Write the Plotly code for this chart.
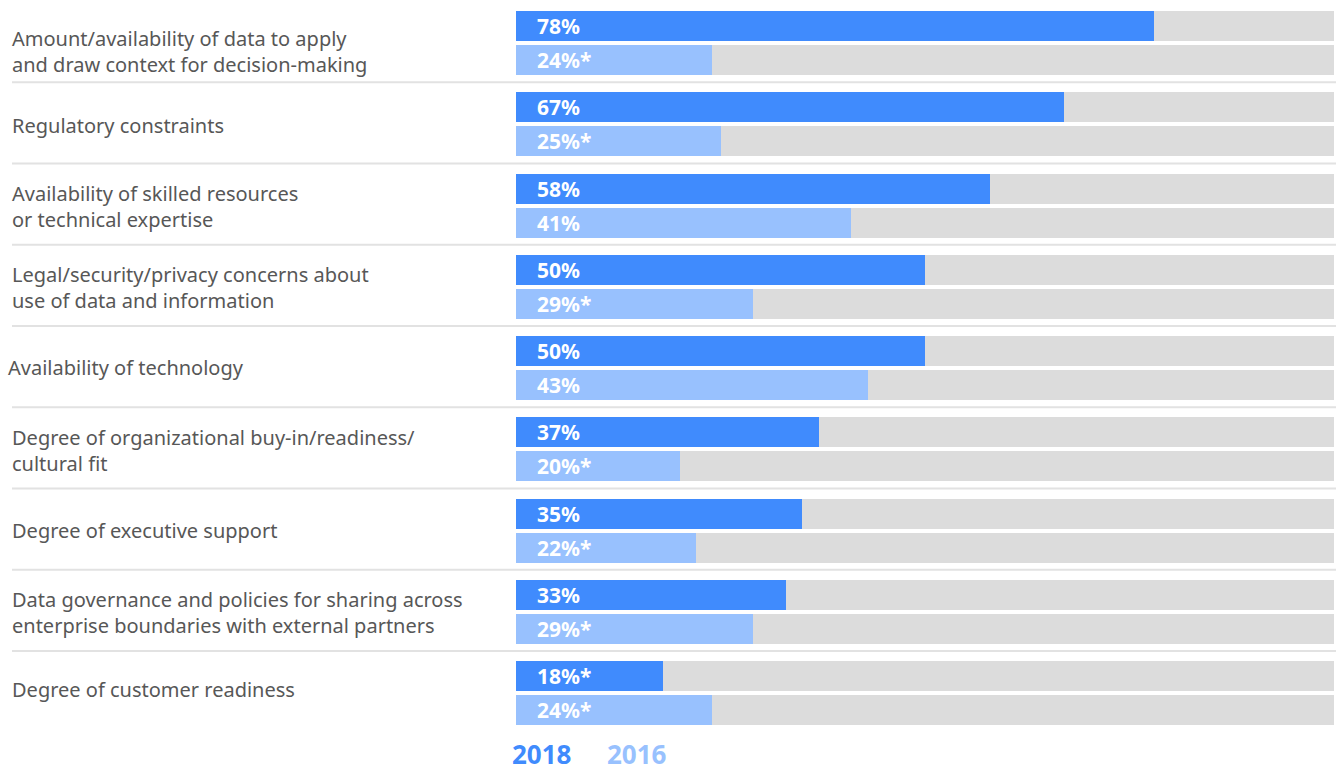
import plotly.graph_objects as go

categories = [
    "Amount/availability of data to apply<br>and draw context for decision-making",
    "Regulatory constraints",
    "Availability of skilled resources<br>or technical expertise",
    "Legal/security/privacy concerns about<br>use of data and information",
    "Availability of technology",
    "Degree of organizational buy-in/readiness/<br>cultural fit",
    "Degree of executive support",
    "Data governance and policies for sharing across<br>enterprise boundaries with external partners",
    "Degree of customer readiness",
]
values_2018 = [78, 67, 58, 50, 50, 37, 35, 33, 18]
labels_2018 = ["78%", "67%", "58%", "50%", "50%", "37%", "35%", "33%", "18%*"]
values_2016 = [24, 25, 41, 29, 43, 20, 22, 29, 24]
labels_2016 = ["24%*", "25%*", "41%", "29%*", "43%", "20%*", "22%*", "29%*", "24%*"]
series_names = ["2018", "2016"]

C_DARK = "#408bfd"
C_LIGHT = "#98c1fe"
C_GREY = "#dcdcdc"
C_TEXT = "#575757"

W, H = 1340, 774
PITCH = 81.25
TOP = 11
BAR_H = 30
GAP = 4
label_x_px = [10, 10, 10, 10, 6, 10, 10, 10, 10]
label_dy = [8, 1, 1, 1, -1, 1, 0, 1, -4]

n = len(categories)
y_dark = [TOP + BAR_H / 2 + i * PITCH for i in range(n)]
y_light = [y + BAR_H + GAP for y in y_dark]

fig = go.Figure()
fig.add_trace(go.Bar(y=y_dark + y_light, x=[100] * (2 * n), orientation="h",
                     width=BAR_H, marker=dict(color=C_GREY, line=dict(width=0)),
                     hoverinfo="skip", showlegend=False))
fig.add_trace(go.Bar(y=y_dark, x=values_2018, orientation="h", width=BAR_H,
                     marker=dict(color=C_DARK, line=dict(width=0)), name=series_names[0],
                     showlegend=False))
fig.add_trace(go.Bar(y=y_light, x=values_2016, orientation="h", width=BAR_H,
                     marker=dict(color=C_LIGHT, line=dict(width=0)), name=series_names[1],
                     showlegend=False))

annotations = []
shapes = []
val_font = dict(family="Noto Sans", size=21, color="white")
for i in range(n):
    annotations.append(dict(x=0, y=y_dark[i], xref="x", yref="y", text="<b>%s</b>" % labels_2018[i],
                            showarrow=False, xanchor="left", xshift=19, font=val_font))
    annotations.append(dict(x=0, y=y_light[i], xref="x", yref="y", text="<b>%s</b>" % labels_2016[i],
                            showarrow=False, xanchor="left", xshift=19, font=val_font))
    center = (y_dark[i] + y_light[i]) / 2 + label_dy[i]
    annotations.append(dict(x=label_x_px[i] / W, y=center, xref="paper", yref="y", text=categories[i],
                            showarrow=False, xanchor="left", yanchor="middle", align="left",
                            font=dict(family="Noto Sans", size=20, color=C_TEXT)))
    if i < n - 1:
        ysep = TOP + (i + 1) * PITCH - 10
        shapes.append(dict(type="line", xref="paper", yref="y", x0=12 / W, x1=1336 / W,
                           y0=ysep, y1=ysep, line=dict(color="#e2e2e2", width=2)))

leg_font = dict(family="Noto Sans", size=26)
annotations.append(dict(x=510 / W, y=0, xref="paper", yref="paper", text="<b>%s</b>" % series_names[0],
                        showarrow=False, xanchor="left", yanchor="bottom", font=dict(leg_font, color=C_DARK)))
annotations.append(dict(x=605 / W, y=0, xref="paper", yref="paper", text="<b>%s</b>" % series_names[1],
                        showarrow=False, xanchor="left", yanchor="bottom", font=dict(leg_font, color=C_LIGHT)))

fig.update_layout(
    width=W, height=H, margin=dict(l=0, r=0, t=0, b=0),
    paper_bgcolor="white", plot_bgcolor="white",
    barmode="overlay", bargap=0,
    xaxis=dict(domain=[516 / W, 1334 / W], range=[0, 100], visible=False, fixedrange=True),
    yaxis=dict(domain=[0, 1], range=[H, 0], visible=False, fixedrange=True),
    annotations=annotations, shapes=shapes,
)

fig.write_html("out.html")
